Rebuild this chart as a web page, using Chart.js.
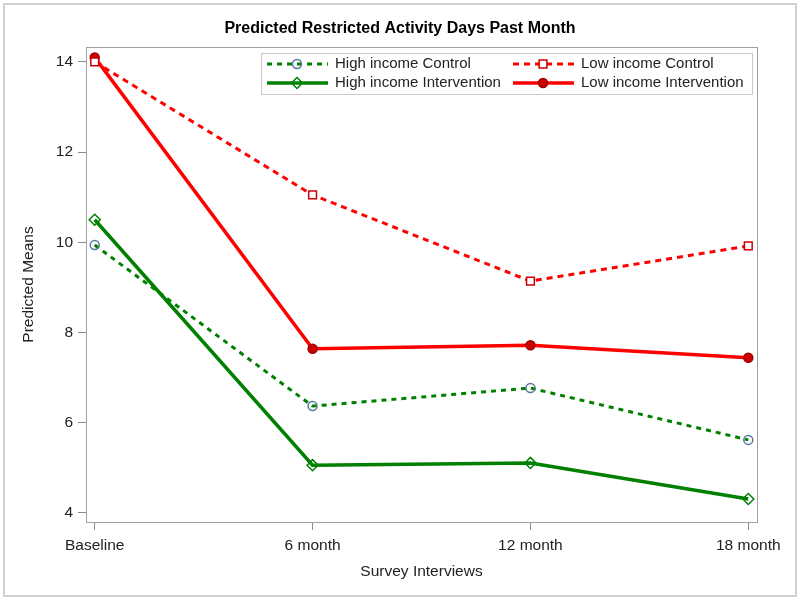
<!DOCTYPE html>
<html>
<head>
<meta charset="utf-8">
<script src="https://cdn.jsdelivr.net/npm/chart.js@4/dist/chart.umd.min.js"></script>
<style>
  body { margin: 0; background: #fff; }
</style>
</head>
<body>
<canvas id="myChart" width="800" height="603"></canvas>
<script>
// Chart data
var chartTitle = 'Predicted Restricted Activity Days Past Month';
var surveyLabels = ['Baseline', '6 month', '12 month', '18 month'];
var yTickValues = [4, 6, 8, 10, 12, 14];
var highIncomeControl = [9.94, 6.37, 6.77, 5.62];
var lowIncomeControl = [14.0, 11.05, 9.14, 9.92];
var highIncomeIntervention = [10.5, 5.06, 5.11, 4.31];
var lowIncomeIntervention = [14.1, 7.64, 7.72, 7.44];

var FONT = '"Liberation Sans", Arial, sans-serif';

function toPoints(values) {
    return values.map(function(v, i) { return { x: i, y: v }; });
}

// small marker drawer for the legend (same sizes as chart.js points)
function drawMarker(ctx, ds, x, y) {
    var r = ds.pointRadius;
    ctx.save();
    ctx.setLineDash([]);
    ctx.lineWidth = ds.pointBorderWidth;
    ctx.strokeStyle = ds.pointBorderColor;
    ctx.fillStyle = ds.pointBackgroundColor;
    ctx.beginPath();
    if (ds.pointStyle === 'rect') {
        var h = r * Math.SQRT1_2;
        ctx.rect(x - h, y - h, h * 2, h * 2);
    } else if (ds.pointStyle === 'rectRot') {
        ctx.moveTo(x, y - r); ctx.lineTo(x + r, y); ctx.lineTo(x, y + r); ctx.lineTo(x - r, y); ctx.closePath();
    } else {
        ctx.arc(x, y, r, 0, Math.PI * 2);
    }
    ctx.fill();
    ctx.stroke();
    ctx.restore();
}

var framePlugin = {
    id: 'frame',
    afterDraw: function(chart) {
        var ctx = chart.ctx;
        var a = chart.chartArea;
        ctx.save();
        // outer frame
        ctx.strokeStyle = '#d0d0d0';
        ctx.lineWidth = 2;
        ctx.strokeRect(4, 4, 792, 592);
        // plot box
        ctx.strokeStyle = '#a0a0a0';
        ctx.lineWidth = 1;
        ctx.strokeRect(Math.round(a.left) + 0.5, Math.round(a.top) + 0.5, Math.round(a.right - a.left), Math.round(a.bottom - a.top));
        // title
        ctx.fillStyle = '#000';
        ctx.font = 'bold 16px ' + FONT;
        ctx.textAlign = 'center';
        ctx.textBaseline = 'middle';
        ctx.fillText(chartTitle, 400, 29);

        // legend inside plot
        ctx.strokeStyle = '#c8c8c8';
        ctx.strokeRect(261.5, 53.5, 491, 41);
        var cols = [267, 513];
        var rows = [64, 83];
        var slots = [[0, 0], [1, 0], [0, 1], [1, 1]];
        chart.data.datasets.forEach(function(ds, i) {
            var x = cols[slots[i][0]];
            var y = rows[slots[i][1]];
            ctx.save();
            ctx.strokeStyle = ds.borderColor;
            ctx.lineWidth = ds.borderWidth;
            ctx.setLineDash(ds.borderDash || []);
            ctx.beginPath();
            ctx.moveTo(x, y);
            ctx.lineTo(x + 61, y);
            ctx.stroke();
            ctx.restore();
            drawMarker(ctx, ds, x + 30, y);
            ctx.fillStyle = '#222';
            ctx.font = '15px ' + FONT;
            ctx.textAlign = 'left';
            ctx.textBaseline = 'middle';
            ctx.fillText(ds.label, x + 68, y);
        });
        ctx.restore();
    }
};

var ctx = document.getElementById('myChart').getContext('2d');
var myChart = new Chart(ctx, {
    type: 'line',
    data: {
        datasets: [{
            label: 'High income Control',
            data: toPoints(highIncomeControl),
            borderColor: '#008000',
            borderWidth: 3,
            borderDash: [5, 5],
            pointStyle: 'circle',
            pointRadius: 4.5,
            pointBorderWidth: 1.5,
            pointBorderColor: '#55799a',
            pointBackgroundColor: 'rgba(255,255,255,0)'
        }, {
            label: 'Low income Control',
            data: toPoints(lowIncomeControl),
            borderColor: '#ff0000',
            borderWidth: 3,
            borderDash: [6, 5],
            pointStyle: 'rect',
            pointRadius: 5.5,
            pointBorderWidth: 1.5,
            pointBorderColor: '#cc0000',
            pointBackgroundColor: '#ffffff'
        }, {
            label: 'High income Intervention',
            data: toPoints(highIncomeIntervention),
            borderColor: '#008000',
            borderWidth: 3.5,
            pointStyle: 'rectRot',
            pointRadius: 5.5,
            pointBorderWidth: 1.5,
            pointBorderColor: '#008000',
            pointBackgroundColor: 'rgba(255,255,255,0)'
        }, {
            label: 'Low income Intervention',
            data: toPoints(lowIncomeIntervention),
            borderColor: '#ff0000',
            borderWidth: 3.5,
            pointStyle: 'circle',
            pointRadius: 4.5,
            pointBorderWidth: 1.5,
            pointBorderColor: '#a00000',
            pointBackgroundColor: '#cc0000'
        }]
    },
    options: {
        responsive: false,
        animation: false,
        layout: { padding: { top: 47, left: 5, right: 43, bottom: 14 } },
        elements: { line: { tension: 0 } },
        plugins: {
            legend: { display: false },
            title: { display: false },
            tooltip: { enabled: false }
        },
        scales: {
            x: {
                type: 'linear',
                min: -0.04,
                max: 3.04,
                afterBuildTicks: function(s) {
                    s.ticks = surveyLabels.map(function(l, i) { return { value: i }; });
                },
                afterFit: function(s) { s.height = 67; },
                ticks: {
                    callback: function(v) { return surveyLabels[v]; },
                    font: { family: FONT, size: 15.5 },
                    color: '#222',
                    padding: 6,
                    maxRotation: 0,
                    autoSkip: false
                },
                grid: { drawOnChartArea: false, drawTicks: true, tickLength: 8, color: '#8c8c8c' },
                border: { display: false },
                title: {
                    display: true,
                    text: 'Survey Interviews',
                    font: { family: FONT, size: 15.5 },
                    color: '#222',
                    padding: { top: 0, bottom: 8 }
                }
            },
            y: {
                type: 'linear',
                min: 3.8,
                max: 14.33,
                afterBuildTicks: function(s) {
                    s.ticks = yTickValues.map(function(v) { return { value: v }; });
                },
                afterFit: function(s) { s.width = 81; },
                ticks: {
                    font: { family: FONT, size: 15.5 },
                    color: '#222',
                    padding: 5
                },
                grid: { drawOnChartArea: false, drawTicks: true, tickLength: 8, color: '#8c8c8c' },
                border: { display: false },
                title: {
                    display: true,
                    text: 'Predicted Means',
                    font: { family: FONT, size: 15.5 },
                    color: '#222',
                    padding: { top: 14, bottom: 0 }
                }
            }
        }
    },
    plugins: [framePlugin]
});
</script>
</body>
</html>
